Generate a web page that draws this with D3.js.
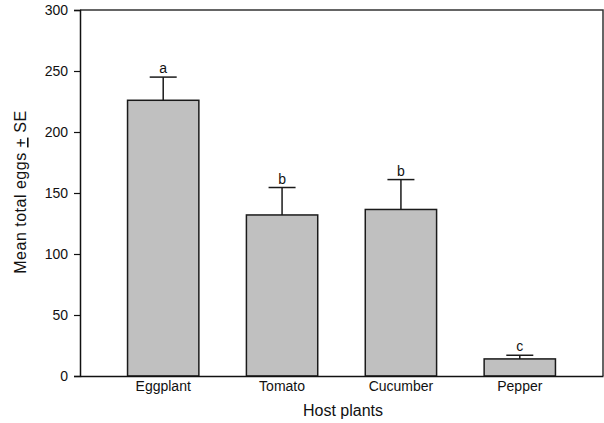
<!DOCTYPE html>
<meta charset="utf-8">
<style>
body { margin: 0; background: #fff; }
svg text { font-family: "Liberation Sans", Arial, sans-serif; fill: #111; }
.bar { fill: #c0c0c0; stroke: #1a1a1a; stroke-width: 1.5px; }
.err { stroke: #1a1a1a; stroke-width: 1.5px; fill: none; }
</style>
<body>
<svg id="chart" width="604" height="423"></svg>
<script src="https://cdnjs.cloudflare.com/ajax/libs/d3/7.8.5/d3.min.js"></script>
<script>
// data
var plants = ["Eggplant", "Tomato", "Cucumber", "Pepper"];
var means = [226, 132, 136.5, 14];
var errTop = [245, 154.5, 161, 17];
var letters = ["a", "b", "b", "c"];
var yTicks = [0, 50, 100, 150, 200, 250, 300];

var margin = {top: 10, right: 1, bottom: 47, left: 80};
var width = 604 - margin.left - margin.right;
var height = 423 - margin.top - margin.bottom;

var svg = d3.select("#chart");
var g = svg.append("g").attr("transform", "translate(" + margin.left + "," + margin.top + ")");

var x = d3.scaleBand().domain(plants).range([0, width]).paddingInner(0.4).paddingOuter(0.4);
var y = d3.scaleLinear().domain([0, 300]).range([height, 0]);

// frame (top and right)
g.append("path")
  .attr("d", "M0,0H" + width + "V" + height)
  .attr("fill", "none").attr("stroke", "#333").attr("stroke-width", 1.5);

// bars
g.selectAll("rect.bar")
  .data(plants)
  .enter().append("rect")
  .attr("class", "bar")
  .attr("x", function(d) { return x(d); })
  .attr("y", function(d, i) { return y(means[i]); })
  .attr("width", x.bandwidth())
  .attr("height", function(d, i) { return height - y(means[i]); });

// error bars (upper only)
var cap = 13.5;
plants.forEach(function(p, i) {
  var cx = x(p) + x.bandwidth() / 2;
  g.append("line").attr("class", "err")
    .attr("x1", cx).attr("x2", cx).attr("y1", y(means[i])).attr("y2", y(errTop[i]));
  g.append("line").attr("class", "err")
    .attr("x1", cx - cap).attr("x2", cx + cap).attr("y1", y(errTop[i])).attr("y2", y(errTop[i]));
  g.append("text")
    .attr("x", cx).attr("y", y(errTop[i]) - 4)
    .attr("text-anchor", "middle")
    .style("font-size", "14px")
    .text(letters[i]);
});

// y axis
var yAxis = g.append("g")
  .call(d3.axisLeft(y).tickValues(yTicks).tickSize(6).tickPadding(6));
yAxis.select(".domain").attr("stroke", "#111").attr("stroke-width", 1.5);
yAxis.selectAll(".tick line").attr("stroke", "#111").attr("stroke-width", 1.2);
yAxis.selectAll(".tick text").style("font-size", "14px").attr("fill", "#111");

// x axis
var xAxis = g.append("g")
  .attr("transform", "translate(0," + height + ")")
  .call(d3.axisBottom(x).tickSize(0).tickPadding(5));
xAxis.select(".domain").attr("stroke", "#111").attr("stroke-width", 1.5);
xAxis.selectAll(".tick text").style("font-size", "14px").attr("fill", "#111");

// axis titles
svg.append("text")
  .attr("x", 343)
  .attr("y", 416)
  .attr("text-anchor", "middle")
  .style("font-size", "16px")
  .text("Host plants");

var yl = svg.append("text")
  .attr("transform", "translate(26,192) rotate(-90)")
  .attr("text-anchor", "middle")
  .style("font-size", "16px")
  .style("letter-spacing", "0.5px");
yl.append("tspan").text("Mean total eggs ");
yl.append("tspan").style("text-decoration", "underline").text("+");
yl.append("tspan").text(" SE");
</script>
</body>
